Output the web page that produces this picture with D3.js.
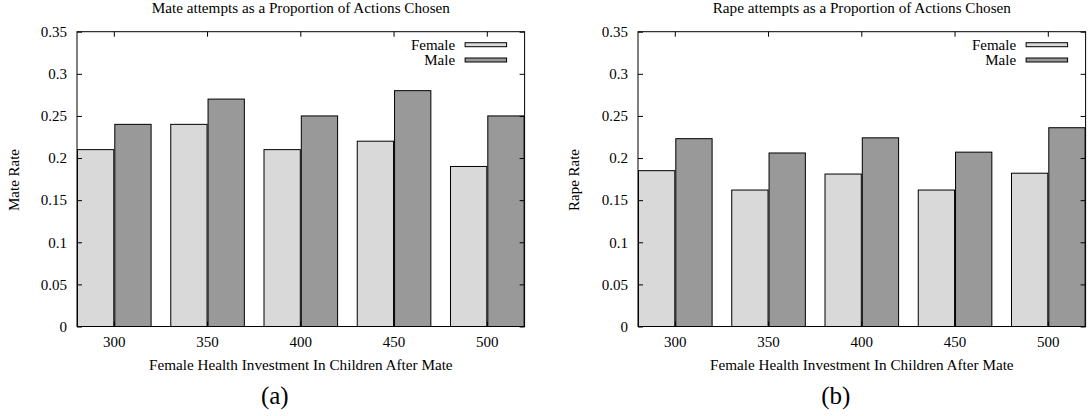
<!DOCTYPE html>
<html>
<head>
<meta charset="utf-8">
<script src="https://cdn.jsdelivr.net/npm/d3@7"></script>
<style>
  body { margin: 0; background: #fff; }
</style>
</head>
<body>
<div id="chart"></div>
<script>
// categories on the x axis
const investments = ["300", "350", "400", "450", "500"];
const seriesNames = ["Female", "Male"];

// panel (a): mate rate
const mateFemale = [0.21, 0.24, 0.21, 0.22, 0.19];
const mateMale   = [0.24, 0.27, 0.25, 0.28, 0.25];

// panel (b): rape rate
const rapeFemale = [0.185, 0.162, 0.181, 0.162, 0.182];
const rapeMale   = [0.223, 0.206, 0.224, 0.207, 0.236];

const yTicks = [0, 0.05, 0.1, 0.15, 0.2, 0.25, 0.3, 0.35];
const yTickLabels = ["0", "0.05", "0.1", "0.15", "0.2", "0.25", "0.3", "0.35"];

const colors = ["#d9d9d9", "#999999"];
const serif = "'Liberation Serif', 'Times New Roman', serif";

const svg = d3.select("#chart")
    .append("svg")
    .attr("width", 1091)
    .attr("height", 416);

//draws one panel of the figure
function drawPanel(left, title, yLabel, caption, female, male, yLabelX) {
    const w = 447.6, top = 31.7, bottom = 326.5;
    const g = svg.append("g").attr("transform", "translate(" + left + ",0)");

    let x = d3.scaleBand()
        .domain(investments)
        .range([0, w])
        .paddingInner(0.2)
        .paddingOuter(0);
    let xs = d3.scaleBand()
        .domain(seriesNames)
        .range([0, x.bandwidth()]);
    let y = d3.scaleLinear()
        .domain([0, 0.35])
        .range([bottom, top]);

    //bars
    let rows = investments.map((c, i) => ({ cat: c, vals: [female[i], male[i]] }));
    let groups = g.selectAll(".grp")
        .data(rows)
        .join("g")
        .attr("transform", d => "translate(" + x(d.cat) + ",0)");
    groups.selectAll("rect")
        .data(d => d.vals.map((v, k) => ({ name: seriesNames[k], v: v, k: k })))
        .join("rect")
        .attr("x", d => xs(d.name) + 0.5)
        .attr("y", d => y(d.v))
        .attr("width", xs.bandwidth() - 1)
        .attr("height", d => y(0) - y(d.v))
        .attr("fill", d => colors[d.k])
        .attr("stroke", "#000")
        .attr("stroke-width", 1);

    //frame
    g.append("rect")
        .attr("x", 0)
        .attr("y", top)
        .attr("width", w)
        .attr("height", bottom - top)
        .attr("fill", "none")
        .attr("stroke", "#000")
        .attr("stroke-width", 1);

    //y axis, ticks pointing inward plus mirror ticks on the right
    let yAxis = d3.axisLeft(y)
        .tickValues(yTicks)
        .tickFormat((d, i) => yTickLabels[i])
        .tickSizeInner(-5)
        .tickSizeOuter(0)
        .tickPadding(10);
    let ya = g.append("g").call(yAxis);
    ya.select(".domain").remove();
    let yr = g.append("g").attr("transform", "translate(" + w + ",0)")
        .call(d3.axisRight(y).tickValues(yTicks).tickSizeInner(-5).tickSizeOuter(0).tickFormat(""));
    yr.select(".domain").remove();

    //x axis labels plus mirror ticks on top
    let xAxis = d3.axisBottom(x)
        .tickSizeInner(-5)
        .tickSizeOuter(0)
        .tickPadding(10);
    let xa = g.append("g").attr("transform", "translate(0," + bottom + ")").call(xAxis);
    xa.select(".domain").remove();
    let xt = g.append("g").attr("transform", "translate(0," + top + ")")
        .call(d3.axisTop(x).tickSizeInner(-5).tickSizeOuter(0).tickFormat(""));
    xt.select(".domain").remove();
    g.selectAll(".tick line").attr("stroke", "#000");
    g.selectAll(".tick text")
        .style("font-family", serif)
        .style("font-size", "15px")
        .attr("fill", "#000");

    //legend
    let leg = g.selectAll(".leg")
        .data(seriesNames)
        .join("g")
        .attr("transform", (d, i) => "translate(0," + (44.7 + i * 15.3) + ")");
    leg.append("rect")
        .attr("x", w - 59.5)
        .attr("y", -2)
        .attr("width", 41.5)
        .attr("height", 4)
        .attr("fill", (d, i) => colors[i])
        .attr("stroke", "#000")
        .attr("stroke-width", 1);
    leg.append("text")
        .attr("x", w - 69.5)
        .attr("y", 5)
        .attr("text-anchor", "end")
        .style("font-family", serif)
        .style("font-size", "15px")
        .text(d => d);

    //titles
    g.append("text")
        .attr("x", w / 2)
        .attr("y", 12.7)
        .attr("text-anchor", "middle")
        .style("font-family", serif)
        .style("font-size", "15.2px")
        .text(title);
    g.append("text")
        .attr("x", w / 2)
        .attr("y", 370)
        .attr("text-anchor", "middle")
        .style("font-family", serif)
        .style("font-size", "15.2px")
        .text("Female Health Investment In Children After Mate");
    g.append("text")
        .attr("transform", "translate(" + yLabelX + ",180) rotate(-90)")
        .attr("text-anchor", "middle")
        .style("font-family", serif)
        .style("font-size", "15px")
        .text(yLabel);
    g.append("text")
        .attr("x", w / 2 - 26)
        .attr("y", 404)
        .attr("text-anchor", "middle")
        .style("font-family", serif)
        .style("font-size", "25px")
        .text(caption);
}

drawPanel(77, "Mate attempts as a Proportion of Actions Chosen", "Mate Rate", "(a)", mateFemale, mateMale, -57.7);
drawPanel(638, "Rape attempts as a Proportion of Actions Chosen", "Rape Rate", "(b)", rapeFemale, rapeMale, -59.3);
</script>
</body>
</html>
